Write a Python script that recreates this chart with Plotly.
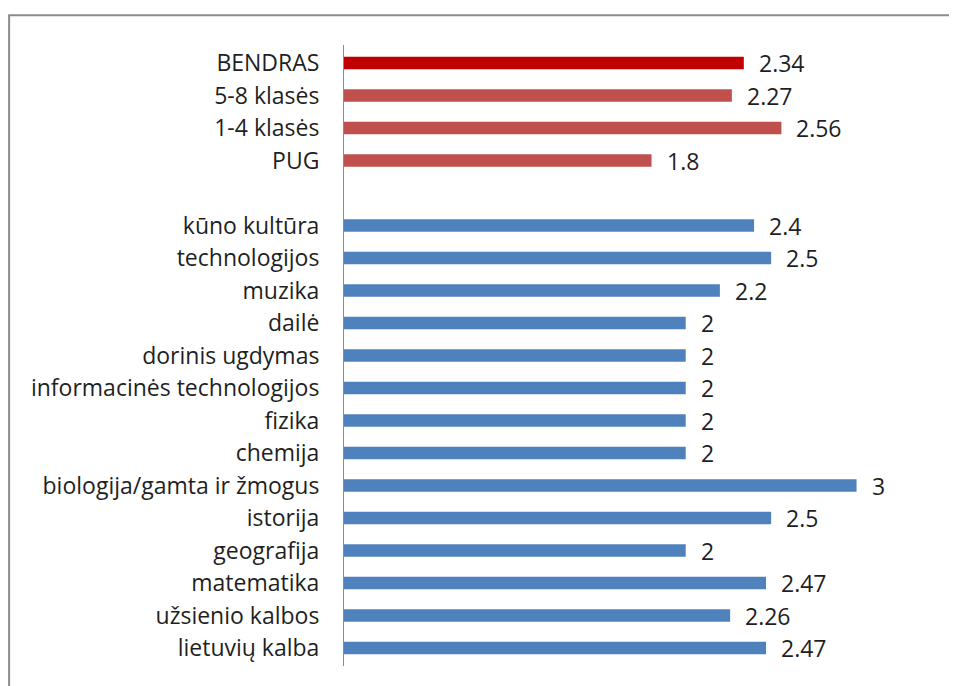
import plotly.graph_objects as go

categories = ["BENDRAS", "5-8 klasės", "1-4 klasės", "PUG", " ",
              "kūno kultūra", "technologijos", "muzika", "dailė", "dorinis ugdymas",
              "informacinės technologijos", "fizika", "chemija",
              "biologija/gamta ir žmogus", "istorija", "geografija", "matematika",
              "užsienio kalbos", "lietuvių kalba"]
values = [2.34, 2.27, 2.56, 1.8, None,
          2.4, 2.5, 2.2, 2, 2, 2, 2, 2, 3, 2.5, 2, 2.47, 2.26, 2.47]
colors = ["#C00000", "#C0504D", "#C0504D", "#C0504D", "#4F81BD"] + ["#4F81BD"] * 14

FONT = "'Open Sans', Lato, sans-serif"
FS = 23
TXT = "#1f1f1f"

fig = go.Figure(go.Bar(
    y=categories, x=values, orientation="h",
    marker=dict(color=colors, line=dict(width=0)),
    width=0.38, hoverinfo="x+y",
))

ann = []
for c, v in zip(categories, values):
    if v is None:
        continue
    ann.append(dict(x=v, y=c, xref="x", yref="y", text=f"{v:g}", showarrow=False,
                    xanchor="left", yanchor="middle", xshift=13,
                    font=dict(family=FONT, size=FS, color=TXT)))

fig.update_layout(
    width=949, height=678,
    margin=dict(l=336, r=15, t=37, b=20),
    paper_bgcolor="white", plot_bgcolor="white",
    showlegend=False,
    annotations=ann,
    font=dict(family=FONT, size=FS, color=TXT),
    xaxis=dict(range=[0, 3.5], showgrid=False, zeroline=False, showticklabels=False,
               showline=False, ticks=""),
    yaxis=dict(categoryorder="array", categoryarray=categories, autorange="reversed",
               showgrid=False, zeroline=False, showline=True, linecolor="#8c8c8c",
               linewidth=1, ticks="", ticklabelstandoff=19,
               tickfont=dict(family=FONT, size=FS, color=TXT)),
    shapes=[dict(type="rect", xref="paper", yref="paper",
                 x0=-0.56, x1=1.2, y0=-0.2, y1=1.048,
                 line=dict(color="#8c8c8c", width=2), layer="below")],
)

fig.write_html("out.html")
